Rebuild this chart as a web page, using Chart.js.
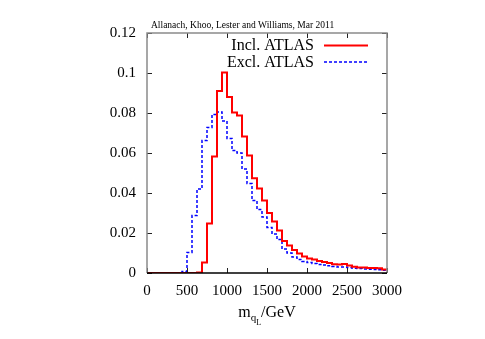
<!DOCTYPE html>
<html>
<head>
<meta charset="utf-8">
<script src="https://cdn.jsdelivr.net/npm/chart.js@4"></script>
<style>
  html, body { margin: 0; padding: 0; background: #fff; }
  #wrap { width: 485px; height: 339px; }
</style>
</head>
<body>
<div id="wrap"><canvas id="histChart" width="485" height="339"></canvas></div>
<script>
const titleText = "Allanach, Khoo, Lester and Williams, Mar 2011";
const seriesNames = ["Incl. ATLAS", "Excl. ATLAS"];
const binWidth = 62.5; // GeV, 48 bins from 0 to 3000

const inclAtlas = [
  0, 0, 0, 0, 0, 0, 0, 0, 0, 0, 0.0003, 0.0053,
  0.0247, 0.0583, 0.091, 0.1003, 0.088, 0.0803, 0.0788, 0.0683, 0.0587, 0.0474, 0.0422, 0.0363,
  0.0300, 0.0257, 0.0213, 0.0160, 0.0138, 0.0115, 0.0097, 0.0083, 0.0072, 0.0067, 0.0060, 0.0055,
  0.0050, 0.0044, 0.0043, 0.0045, 0.0037, 0.0031, 0.0028, 0.0027, 0.0025, 0.0025, 0.0024, 0.0018
];
const exclAtlas = [
  0, 0, 0, 0, 0, 0, 0, 0.0008, 0.0103, 0.0287, 0.042, 0.0662,
  0.0728, 0.0793, 0.0805, 0.076, 0.0673, 0.0612, 0.06, 0.052, 0.0447, 0.0362, 0.0317, 0.028,
  0.0228, 0.0195, 0.0167, 0.0120, 0.0100, 0.0080, 0.0068, 0.0058, 0.0052, 0.0047, 0.0043, 0.0040,
  0.0036, 0.0033, 0.0030, 0.0030, 0.0027, 0.0024, 0.0022, 0.0020, 0.0019, 0.0018, 0.0016, 0.0014
];
const xTicks = [0, 500, 1000, 1500, 2000, 2500, 3000];
const yTicks = [0, 0.02, 0.04, 0.06, 0.08, 0.1, 0.12];

const serif = "'Liberation Serif', 'DejaVu Serif', serif";

// histogram as stepped line: one point per left bin edge, plus closing edge
function toSteps(values) {
  const pts = values.map((v, i) => ({ x: i * binWidth, y: v }));
  pts.push({ x: values.length * binWidth, y: values[values.length - 1] });
  return pts;
}

// inner tick marks on all four sides, frame, title, legend, axis label
const decorations = {
  id: "decorations",
  afterDatasetsDraw(chart) {
    const { ctx, chartArea: a, scales } = chart;
    ctx.save();
    ctx.strokeStyle = "#222";
    ctx.lineWidth = 1;
    xTicks.forEach(t => {
      const px = Math.round(scales.x.getPixelForValue(t)) + 0.5;
      ctx.beginPath();
      ctx.moveTo(px, a.bottom); ctx.lineTo(px, a.bottom - 5);
      ctx.moveTo(px, a.top); ctx.lineTo(px, a.top + 5);
      ctx.stroke();
    });
    yTicks.forEach(t => {
      const py = Math.round(scales.y.getPixelForValue(t)) + 0.5;
      ctx.beginPath();
      ctx.moveTo(a.left, py); ctx.lineTo(a.left + 5, py);
      ctx.moveTo(a.right, py); ctx.lineTo(a.right - 5, py);
      ctx.stroke();
    });
    // frame
    ctx.strokeStyle = "#8a8a8a";
    ctx.lineWidth = 1.5;
    ctx.beginPath();
    ctx.moveTo(a.left, a.bottom); ctx.lineTo(a.left, a.top);
    ctx.lineTo(a.right, a.top); ctx.lineTo(a.right, a.bottom);
    ctx.stroke();
    ctx.strokeStyle = "#000";
    ctx.lineWidth = 1.5;
    ctx.beginPath();
    ctx.moveTo(a.left, a.bottom); ctx.lineTo(a.right, a.bottom);
    ctx.stroke();

    // title
    ctx.fillStyle = "#000";
    ctx.font = "9.5px " + serif;
    ctx.textAlign = "left";
    ctx.textBaseline = "middle";
    ctx.fillText(titleText, 151, 25);

    // legend
    ctx.font = "16px " + serif;
    ctx.textAlign = "right";
    ctx.fillText(seriesNames[0], 314, 46);
    ctx.fillText(seriesNames[1], 314, 63);
    ctx.lineWidth = 2;
    ctx.strokeStyle = "#ff0000";
    ctx.setLineDash([]);
    ctx.beginPath(); ctx.moveTo(324, 45.5); ctx.lineTo(368, 45.5); ctx.stroke();
    ctx.lineWidth = 1.5;
    ctx.strokeStyle = "#0000ff";
    ctx.setLineDash([3, 2]);
    ctx.beginPath(); ctx.moveTo(324, 62); ctx.lineTo(368, 62); ctx.stroke();
    ctx.setLineDash([]);

    // x axis label  m_{q_L}/GeV
    const cx = (a.left + a.right) / 2;
    ctx.textAlign = "left";
    ctx.textBaseline = "alphabetic";
    ctx.font = "16px " + serif;
    const wM = ctx.measureText("m").width;
    ctx.font = "11px " + serif;
    const wQ = ctx.measureText("q").width;
    ctx.font = "8px " + serif;
    const wL = ctx.measureText("L").width;
    ctx.font = "16px " + serif;
    const wG = ctx.measureText("/GeV").width;
    let x0 = cx - (wM + wQ + wL + wG) / 2;
    const base = 317;
    ctx.font = "16px " + serif;
    ctx.fillText("m", x0, base); x0 += wM;
    ctx.font = "11px " + serif;
    ctx.fillText("q", x0, base + 4); x0 += wQ;
    ctx.font = "8px " + serif;
    ctx.fillText("L", x0, base + 8); x0 += wL;
    ctx.font = "16px " + serif;
    ctx.fillText("/GeV", x0, base);
    ctx.restore();
  }
};

const data = {
  datasets: [
    {
      label: seriesNames[0],
      data: toSteps(inclAtlas),
      stepped: true,
      borderColor: "#ff0000",
      borderWidth: 2,
      pointRadius: 0,
      fill: false,
    },
    {
      label: seriesNames[1],
      data: toSteps(exclAtlas),
      stepped: true,
      borderColor: "#0000ff",
      borderWidth: 1.5,
      borderDash: [3, 2],
      pointRadius: 0,
      fill: false,
    },
  ],
};

const config = {
  type: "line",
  data: data,
  options: {
    responsive: false,
    animation: false,
    layout: { padding: { left: 96, right: 98, top: 33, bottom: 0 } },
    plugins: {
      legend: { display: false },
      tooltip: { enabled: false },
    },
    scales: {
      x: {
        type: "linear",
        min: 0,
        max: 3000,
        afterBuildTicks: s => { s.ticks = xTicks.map(v => ({ value: v })); },
        afterFit: s => { s.height = 66; },
        grid: { display: false, drawTicks: false },
        border: { display: false },
        ticks: {
          color: "#000",
          padding: 9,
          maxRotation: 0,
          autoSkip: false,
          font: { family: serif, size: 15 },
          callback: v => String(v),
        },
      },
      y: {
        min: 0,
        max: 0.12,
        afterBuildTicks: s => { s.ticks = yTicks.map(v => ({ value: v })); },
        afterFit: s => { s.width = 51; },
        grid: { display: false, drawTicks: false },
        border: { display: false },
        ticks: {
          color: "#000",
          padding: 11,
          font: { family: serif, size: 15 },
          callback: v => String(Math.round(v * 100) / 100),
        },
      },
    },
  },
  plugins: [decorations],
};

document.addEventListener("DOMContentLoaded", () => {
  const ctx = document.getElementById("histChart").getContext("2d");
  new Chart(ctx, config);
});
</script>
</body>
</html>
